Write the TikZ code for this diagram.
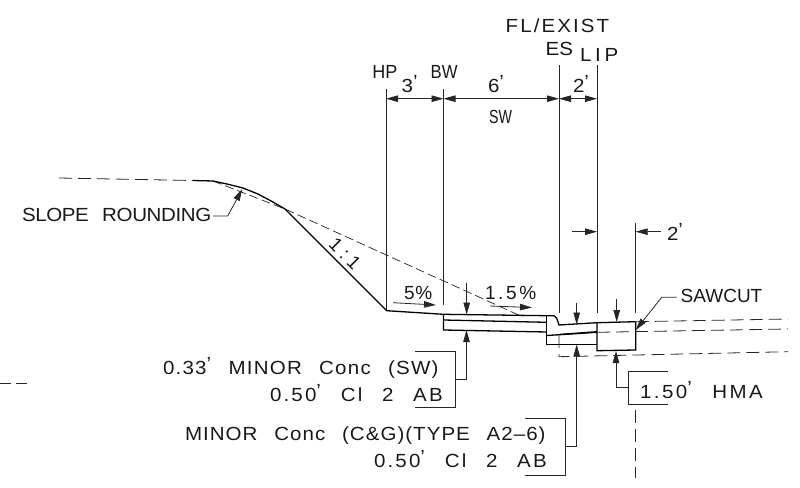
\documentclass[tikz,border=0pt]{standalone}
\usepackage{fontspec}
\setmainfont[WordSpace=2.5]{Liberation Sans}
\usetikzlibrary{arrows.meta}
\newcommand\lbl[2][1.08]{\fontsize{19}{22}\selectfont\addfontfeature{FakeStretch=#1,LetterSpace=#2}}
\newcommand\ap{\raisebox{4pt}{\char39}}
\tikzset{
  tip/.style={-{Triangle[length=12pt,width=6.5pt]}},
  twotip/.style={{Triangle[length=12pt,width=6.5pt]}-{Triangle[length=12pt,width=6.5pt]}},
  thin line/.style={line width=.8pt,draw=black!85},
  thick line/.style={line width=1.3pt,draw=black},
  dash line/.style={line width=.8pt,draw=black!85,dash pattern=on 13pt off 6pt},
  txt/.style={inner sep=0pt,outer sep=0pt,text=black!90,anchor=west}
}
\begin{document}
\begin{tikzpicture}[x=1pt,y=-1pt]
\useasboundingbox (0,0) rectangle (800,487);
% points
\coordinate (hpT) at (386,89);\coordinate (hpB) at (386,310);
\coordinate (bwT) at (443.5,89);\coordinate (bwB) at (443.5,305);
\coordinate (esT) at (559,65);\coordinate (esB) at (559,313);
\coordinate (lpT) at (597,65);\coordinate (lpB) at (597,313);
\coordinate (rtT) at (635.7,223);\coordinate (rtB) at (635.7,313);
% extension lines
\draw[thin line] (hpT)--(hpB) (bwT)--(bwB) (esT)--(esB) (lpT)--(lpB) (rtT)--(rtB);
% dimensions
\draw[thin line,twotip] (386,98.7)--(443.5,98.7);
\draw[thin line,twotip] (443.5,98.7)--(559,98.7);
\draw[thin line,twotip] (559,98.7)--(597,98.7);
\coordinate (d1) at (572,231.7);\coordinate (d2) at (661,231.7);
\draw[thin line,tip] (d1)--(597,231.7);
\draw[thin line,tip] (d2)--(635.7,231.7);
% ground
\draw[dash line] (59,178)--(193,180.5);
\draw[line width=.7pt,draw=black!85,dash pattern=on 9pt off 4pt] (213,181)--(285,209)--(523,317);
\draw[thick line] (193,180.5)--(213,181)--(227,184)--(243,188)--(258,194)--(273,202)--(285,209)--(386.7,310.7)--(443.5,314.3)--(546.7,315.7)--(554,315.7)--(556.7,318.3)--(559,325)--(597,322.7)--(635.7,321.7);
% sidewalk
\draw[thick line] (443.5,314.3)--(443.5,330)--(546.7,332);
\draw[thick line] (443.5,320)--(546.7,322.3);
% curb
\draw[thick line] (546.7,315.7)--(546.7,344.3)--(597,344.3);
\draw[thick line] (546.7,335.5)--(597,332.3);
\draw[thick line] (559,334.5)--(597,331.7);
% HMA
\draw[thick line] (597,322.7)--(597,350.7)--(635.7,350)--(635.7,321.7);
% dashed existing
\draw[dash line] (559,335)--(559,356.7)--(788,351.7);
\draw[dash line] (597,332.3)--(788,329);
\draw[dash line] (635.7,321.7)--(788,319);
\draw[dash line] (635.7,410)--(635.7,478);
\draw[dash line,dash pattern=on 11pt off 5pt] (0,383)--(27,383);
% slope arrows
\draw[thin line,tip] (393,302.7)--(436,305);
\draw[thin line,tip] (490,306)--(532,307.5);
% thickness arrows
\draw[thin line,tip] (466.7,282.7)--(466.7,314.5);
\draw[thin line,tip] (576.7,302.7)--(576.7,324.5);
\draw[thin line,tip] (616.7,299.3)--(616.7,322);
% SW label
\node[txt] (swa) at (163,368) {\lbl{6.5}0.33\ap{} MINOR Conc (SW)};
\node[txt] (swb) at (270,393) {\lbl{11.5}0.50\ap{} Cl 2 AB};
\coordinate (sw1) at (415,351);\coordinate (sw2) at (415,407.7);
\draw[thin line] (sw1)-|(455,407.7)--(sw2);
\draw[thin line,tip] (455,379.3)-|(466.5,330);
% C&G label
\node[txt] (cga) at (185,436) {\lbl{5.4}MINOR Conc (C\&G)(TYPE A2--6)};
\node[txt] (cgb) at (374,459) {\lbl{11.5}0.50\ap{} Cl 2 AB};
\coordinate (cg1) at (525,418.3);\coordinate (cg2) at (525,475.3);
\draw[thin line] (cg1)-|(565,475.3)--(cg2);
\draw[thin line,tip] (565,446.7)-|(576.7,344.5);
% HMA label
\node[txt] (hma) at (640,390) {\lbl{13}1.50\ap{} HMA};
\coordinate (hm1) at (668,371.7);\coordinate (hm2) at (668,404);
\draw[thin line] (hm1)-|(628.3,404)--(hm2);
\draw[thin line,tip] (628.3,387.7)-|(616,351);
% sawcut
\node[txt] (saw) at (680.7,296) {\lbl[1]{0}SAWCUT};
\draw[thin line,tip] (saw.west)++(-4,1.3)--(661.7,297.3)--(635.7,330);
% slope rounding
\node[txt] (sr) at (22,215) {\lbl{-2}SLOPE ROUNDING};
\draw[thin line,tip] (213,216)--(227.7,216)--(242.3,189);
% top labels
\node[txt] (fl) at (505.7,26) {\lbl{11}FL/EXIST};
\node[txt] (es) at (545.7,49) {\lbl{0}ES};
\node[txt] (lip) at (580,55) {\lbl{20}LIP};
\node[txt] (hp) at (372.3,71.7) {\scalebox{.95}[1]{\lbl[1]{0}HP}};
\node[txt] (bw) at (430.7,71.7) {\scalebox{.88}[1]{\lbl[1]{0}BW}};
\node[txt] (d3) at (401.7,84) {\lbl{40}3\ap};
\node[txt] (d6) at (488,84) {\lbl{40}6\ap};
\node[txt] (d2a) at (573,84) {\lbl{30}2\ap};
\node[txt] (sw) at (489,116.7) {\scalebox{.75}[1]{\lbl[1]{0}SW}};
\node[txt] (d2b) at (667,232) {\lbl{30}2\ap};
\node[txt] (p5) at (404,292.7) {\lbl[1]{4}5\%};
\node[txt] (p15) at (485,293) {\lbl[1]{14}1.5\%};
\node[txt,anchor=center,rotate=-45] (sl) at (345,254) {\lbl[1]{25}1:1};
\end{tikzpicture}
\end{document}
